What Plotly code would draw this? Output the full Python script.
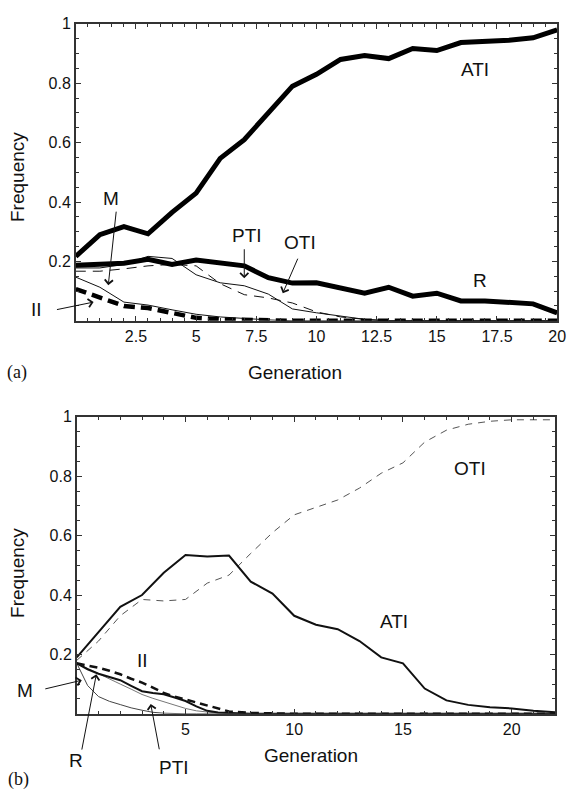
import plotly.graph_objects as go

# ---------------- Panel (a) data ----------------
gen_a = list(range(0, 21))
ati_a = [0.217, 0.29, 0.317, 0.293, 0.365, 0.43, 0.547, 0.61, 0.70, 0.79, 0.83,
         0.88, 0.893, 0.883, 0.917, 0.91, 0.937, 0.94, 0.945, 0.953, 0.98]
r_a = [0.187, 0.19, 0.194, 0.207, 0.19, 0.205, 0.197, 0.185, 0.145, 0.127, 0.128,
       0.11, 0.093, 0.113, 0.083, 0.093, 0.067, 0.067, 0.062, 0.057, 0.027]
pti_a = [0.178, 0.178, 0.19, 0.217, 0.21, 0.155, 0.128, 0.118, 0.09, 0.04, 0.027,
         0.015, 0.005, 0, 0, 0, 0, 0, 0, 0, 0]
oti_a = [0.167, 0.167, 0.175, 0.185, 0.19, 0.185, 0.125, 0.088, 0.077, 0.06, 0.03,
         0.013, 0.005, 0, 0, 0, 0, 0, 0, 0, 0]
m_a = [0.147, 0.113, 0.063, 0.053, 0.037, 0.022, 0.013, 0.007, 0.003, 0, 0,
       0, 0, 0, 0, 0, 0, 0, 0, 0, 0]
ii_a = [0.107, 0.077, 0.05, 0.043, 0.027, 0.01, 0.005, 0.003, 0, 0, 0,
        0, 0, 0, 0, 0, 0, 0, 0, 0, 0]

# ---------------- Panel (b) data ----------------
gen_b = list(range(0, 23))
ati_b = [0.19, 0.275, 0.36, 0.40, 0.475, 0.535, 0.53, 0.533, 0.445, 0.405, 0.33,
         0.30, 0.285, 0.245, 0.19, 0.17, 0.085, 0.045, 0.03, 0.022, 0.018, 0.01, 0.005]
oti_b = [0.18, 0.245, 0.33, 0.385, 0.38, 0.385, 0.44, 0.467, 0.54, 0.61, 0.67,
         0.695, 0.72, 0.76, 0.81, 0.845, 0.915, 0.955, 0.975, 0.985, 0.99, 0.99, 0.99]
gen_b_small = [0, 0.5, 1, 1.5, 2, 2.5, 3, 3.5, 4, 4.5, 5, 5.5, 6, 6.5, 7, 8, 9, 10, 12, 14, 16, 18, 20, 22]
ii_b = [0.17, 0.163, 0.155, 0.145, 0.133, 0.118, 0.105, 0.088, 0.07, 0.058, 0.048, 0.037, 0.027,
        0.017, 0.008, 0.003, 0.001, 0, 0, 0, 0, 0, 0, 0]
r_b = [0.17, 0.15, 0.135, 0.124, 0.113, 0.094, 0.076, 0.07, 0.066, 0.055, 0.043, 0.025, 0.01,
       0.004, 0.002, 0, 0, 0, 0, 0, 0, 0, 0, 0]
pti_b = [0.17, 0.152, 0.135, 0.118, 0.1, 0.083, 0.065, 0.052, 0.041, 0.029, 0.018, 0.01, 0.005,
         0.002, 0, 0, 0, 0, 0, 0, 0, 0, 0, 0]
m_b = [0.17, 0.095, 0.058, 0.042, 0.031, 0.02, 0.012, 0.005, 0.002, 0, 0, 0, 0,
       0, 0, 0, 0, 0, 0, 0, 0, 0, 0, 0]

xticks_a = [2.5, 5, 7.5, 10, 12.5, 15, 17.5, 20]
xtext_a = ["2.5", "5", "7.5", "10", "12.5", "15", "17.5", "20"]
xticks_b = [5, 10, 15, 20]
xtext_b = ["5", "10", "15", "20"]
yticks = [0.2, 0.4, 0.6, 0.8, 1.0]
ytext = ["0.2", "0.4", "0.6", "0.8", "1"]

FONT = "Liberation Sans, Arial, sans-serif"
W, H = 575, 791

fig = go.Figure()

def add(x, y, ax, color, width, dash="solid"):
    fig.add_trace(go.Scatter(x=x, y=y, mode="lines", xaxis="x" + ax, yaxis="y" + ax,
                             line=dict(color=color, width=width, dash=dash),
                             showlegend=False, hoverinfo="skip"))

# panel (a)
add(gen_a, m_a, "", "#111", 1)
add(gen_a, oti_a, "", "#111", 1, "10px,7px")
add(gen_a, pti_a, "", "#111", 1)
add(gen_a, ii_a, "", "#000", 4.5, "11px,6px")
add(gen_a, r_a, "", "#000", 5)
add(gen_a, ati_a, "", "#000", 5)

# panel (b)
add(gen_b_small, m_b, "2", "#444", 1)
add(gen_b_small, pti_b, "2", "#777", 1)
add(gen_b_small, r_b, "2", "#111", 2)
add(gen_b_small, ii_b, "2", "#111", 2.5, "8px,5px")
add(gen_b, oti_b, "2", "#555", 1, "7px,6px")
add(gen_b, ati_b, "2", "#111", 2)

axis_common = dict(showline=True, linecolor="#333", linewidth=1.5, mirror="allticks",
                   ticks="inside", ticklen=5, tickwidth=1, tickcolor="#333",
                   showgrid=False, zeroline=False,
                   tickfont=dict(family=FONT, size=16, color="#111"))

def px_x(p):
    return p / W

def px_y(p):
    return 1 - p / H

# data -> pixel helpers for texts lying outside the plot areas
DOM = {"": (77, 566, 0, 20, 316, 16), "2": (78, 564, 0, 22, 713, 413)}

def d2px(ax, x, y):
    x0, x1, r0, r1, y0, y1 = DOM[ax]
    return x0 + (x - r0) / (r1 - r0) * (x1 - x0), y0 + y * (y1 - y0)

fig.update_layout(
    width=W, height=H, margin=dict(l=0, r=0, t=0, b=0),
    paper_bgcolor="white", plot_bgcolor="white",
    xaxis=dict(domain=[px_x(77), px_x(566)], range=[0, 20], anchor="y",
               tickmode="array", tickvals=xticks_a, ticktext=xtext_a,
               minor=dict(ticks="inside", ticklen=3, dtick=0.5, tick0=0, tickcolor="#333"),
               **axis_common),
    yaxis=dict(domain=[px_y(316), px_y(16)], range=[0, 1], anchor="x",
               tickmode="array", tickvals=yticks, ticktext=ytext,
               minor=dict(ticks="inside", ticklen=3, dtick=0.05, tick0=0, tickcolor="#333"),
               **axis_common),
    xaxis2=dict(domain=[px_x(78), px_x(564)], range=[0, 22], anchor="y2",
                tickmode="array", tickvals=xticks_b, ticktext=xtext_b,
                minor=dict(ticks="inside", ticklen=3, dtick=1, tick0=0, tickcolor="#333"),
                **axis_common),
    yaxis2=dict(domain=[px_y(713), px_y(413)], range=[0, 1], anchor="x2",
                tickmode="array", tickvals=yticks, ticktext=ytext,
                minor=dict(ticks="inside", ticklen=3, dtick=0.05, tick0=0, tickcolor="#333"),
                **axis_common),
)

ann = []

def label(text, x, y, ax="", size=19):
    px, py = d2px(ax, x, y)
    ann.append(dict(text=text, x=px_x(px), y=px_y(py), xref="paper", yref="paper",
                    showarrow=False, font=dict(family=FONT, size=size, color="#111"),
                    xanchor="center", yanchor="middle"))

def arrow(x_tail, y_tail, x_tip, y_tip, ax=""):
    tx, ty = d2px(ax, x_tip, y_tip)
    sx, sy = d2px(ax, x_tail, y_tail)
    ann.append(dict(text="", x=px_x(tx), y=px_y(ty), ax=sx - tx, ay=sy - ty,
                    xref="paper", yref="paper", axref="pixel", ayref="pixel",
                    showarrow=True, arrowhead=4, arrowsize=1.6, arrowwidth=1,
                    arrowcolor="#111", standoff=0, startstandoff=0))

# panel (a) labels
label("ATI", 16.6, 0.847)
label("PTI", 7.1, 0.287)
label("OTI", 9.3, 0.263)
label("R", 16.8, 0.137)
label("M", 1.47, 0.413)
label("II", -1.64, 0.037)
arrow(1.68, 0.37, 1.35, 0.12)
arrow(7.0, 0.245, 7.0, 0.143)
arrow(9.24, 0.213, 8.6, 0.093)
arrow(-0.82, 0.037, 0.74, 0.063)

# panel (b) labels
label("OTI", 18.1, 0.827, "2")
label("ATI", 14.6, 0.31, "2")
label("II", 3.0, 0.18, "2")
label("M", -2.4, 0.077, "2")
label("R", -0.05, -0.157, "2")
label("PTI", 4.47, -0.18, "2")
arrow(-1.49, 0.083, 0.23, 0.113, "2")
arrow(0.23, -0.123, 0.9, 0.133, "2")
arrow(3.8, -0.123, 3.4, 0.033, "2")

# axis titles and panel tags
def paper_text(text, px, py, size=19, angle=0, family=FONT):
    ann.append(dict(text=text, x=px_x(px), y=px_y(py), xref="paper", yref="paper",
                    showarrow=False, textangle=angle, xanchor="center", yanchor="middle",
                    font=dict(family=family, size=size, color="#111")))

paper_text("Generation", 300, 368)
paper_text("Frequency", 18, 171, angle=-90)
paper_text("Generation", 316, 755)
paper_text("Frequency", 18, 571, angle=-90)
paper_text("(a)", 17, 368, size=18, family="Liberation Serif, Times New Roman, serif")
paper_text("(b)", 19, 779, size=18, family="Liberation Serif, Times New Roman, serif")

fig.update_layout(annotations=ann)
fig.write_html(
    "out.html",
    config={"displayModeBar": False},
    post_script="document.body.style.margin='0';document.body.style.padding='0';"
                "document.documentElement.style.overflow='hidden';",
)
